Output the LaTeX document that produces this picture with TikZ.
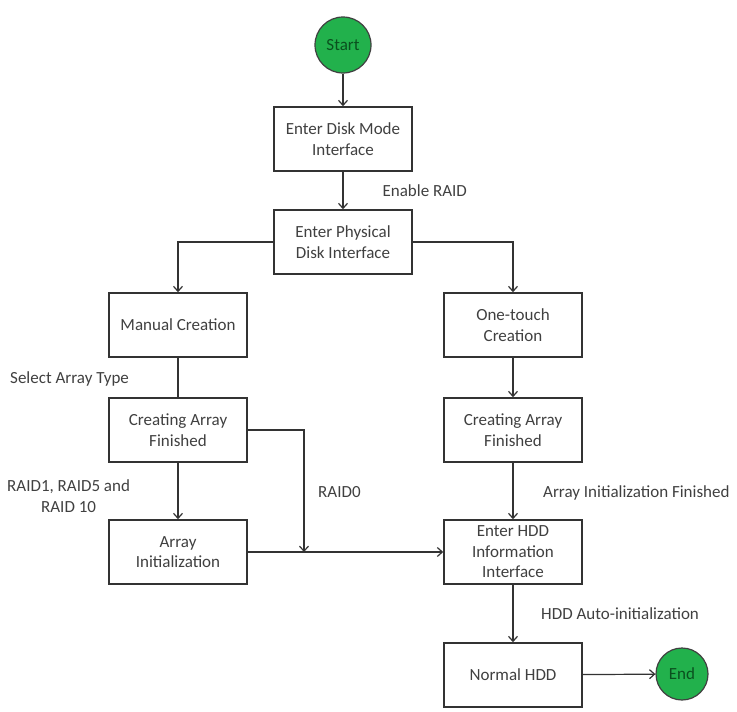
\documentclass[tikz,border=0pt]{standalone}
\usepackage{fontspec}
\setmainfont{Carlito}
\usetikzlibrary{arrows.meta}
\usetikzlibrary{positioning}
\definecolor{termgreen}{RGB}{34,177,76}
\definecolor{termtext}{RGB}{10,80,30}
\tikzset{
box/.style={
	rectangle,
	minimum width=138pt,
	minimum height=64pt,
	text centered,
	align=center,
	draw=black!80,
	line width=1.6pt,
	fill=white,
	text=black!75,
	inner sep=1pt
},
terminal/.style={
	circle,
	minimum size=56pt,
	draw=black!75,
	line width=1.2pt,
	fill=termgreen,
	text=termtext,
	inner sep=0pt
},
arrow/.style={
	-{Straight Barb[length=5pt,width=9pt]},
	draw=black!80,
	line width=1.2pt
},
plain/.style={
	draw=black!80,
	line width=1.2pt
},
lbl/.style={
	anchor=west,
	align=center,
	text=black!75,
	inner sep=0pt
}
}
\begin{document}
\begin{tikzpicture}[x=1pt, y=-1pt, font=\fontsize{17}{20.5}\selectfont]
\useasboundingbox (0,0) rectangle (737,712);
% ===== Top (centre column) =====
\node (start)    [terminal]           at (343, 45)  {Start};
\node (diskmode) [box]                at (343, 139) {Enter Disk Mode\\Interface};
\node (physical) [box]                at (343, 242) {Enter Physical\\Disk Interface};
% ===== Left column: manual creation =====
\node (manual)   [box]                at (178, 325) {Manual Creation};
\node (cafleft)  [box]                at (178, 430) {Creating Array\\Finished};
\node (arrinit)  [box]                at (178, 552) {Array\\Initialization};
% ===== Right column: one-touch creation =====
\node (onetouch) [box]                at (513, 325) {One-touch\\Creation};
\node (cafright) [box]                at (513, 430) {Creating Array\\Finished};
\node (hddinfo)  [box]                at (513, 552) {Enter HDD\\Information\\Interface};
\node (normal)   [box]                at (513, 675) {Normal HDD};
\node (finish)   [terminal, minimum size=52pt] at (682, 674) {End};
% RAID0 joins the horizontal line here
\coordinate (raidjoin) at (304, 552);

% ===== Arrows =====
\draw [arrow] (start)    -- (diskmode);
\draw [arrow] (diskmode) -- node[lbl, pos=0.5, xshift=39pt] {Enable RAID} (physical);
\draw [arrow] (physical.west) -| (manual.north);
\draw [arrow] (physical.east) -| (onetouch.north);
\draw [plain] (manual)   -- (cafleft);
\draw [arrow] (cafleft)  -- (arrinit);
\draw [arrow] (cafleft.east) -| (raidjoin);
\draw [arrow] (arrinit)  -- (hddinfo);
\draw [arrow] (onetouch) -- (cafright);
\draw [arrow] (cafright) -- (hddinfo);
\draw [arrow] (hddinfo)  -- (normal);
\draw [arrow] (normal)   -- (finish);

% labels beside the connectors
\node [lbl] at (10, 379)  {Select Array Type};
\node [lbl] at (7, 496)   {RAID1, RAID5 and\\RAID 10};
\node [lbl] at (318, 492) {RAID0};
\node [lbl] at (543, 493) {Array Initialization Finished};
\node [lbl] at (541, 614) {HDD Auto-initialization};
\end{tikzpicture}
\end{document}
